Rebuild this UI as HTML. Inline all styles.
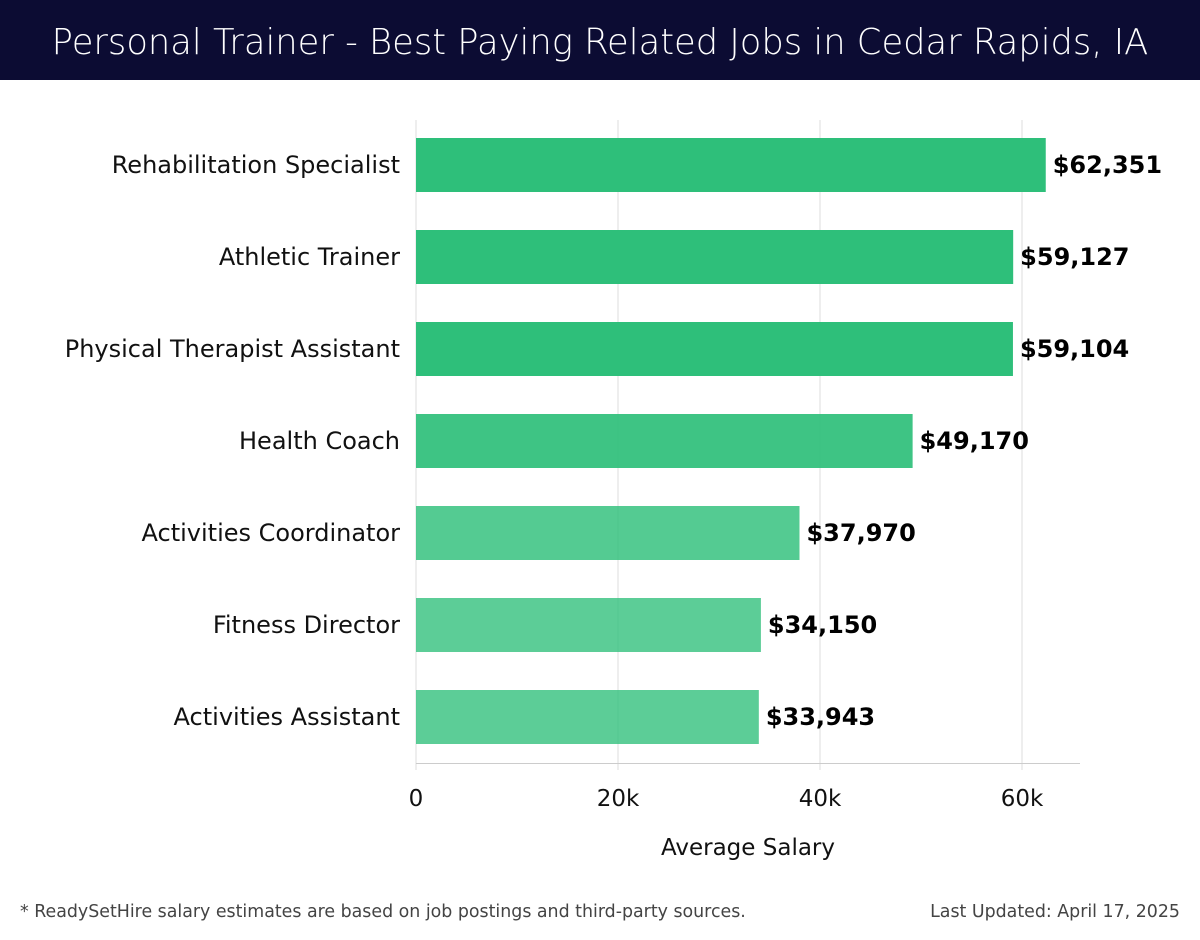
<!DOCTYPE html>
<html><head><meta charset="utf-8"><style>
body{margin:0;width:1200px;height:940px;background:#fff;font-family:"DejaVu Sans","Liberation Sans",sans-serif;overflow:hidden}
#title{position:absolute;left:0;top:0;width:1200px;height:80px;background:#0c0c33;color:#fff;font-size:35.3px;text-align:center;line-height:86px;font-family:"DejaVu Sans","Liberation Sans",sans-serif;font-weight:300}
.foot{position:absolute;top:902px;font-size:17.4px;color:#444}
</style></head><body>
<div id="title">Personal Trainer - Best Paying Related Jobs in Cedar Rapids, IA</div>
<svg id="chart" width="1200" height="940" style="position:absolute;left:0;top:0"></svg>
<div class="foot" style="left:20px">* ReadySetHire salary estimates are based on job postings and third-party sources.</div>
<div class="foot" style="right:20px">Last Updated: April 17, 2025</div>
<script>
const categories=["Rehabilitation Specialist","Athletic Trainer","Physical Therapist Assistant","Health Coach","Activities Coordinator","Fitness Director","Activities Assistant"];
const salaries=[62351,59127,59104,49170,37970,34150,33943];
const valueLabels=["$62,351","$59,127","$59,104","$49,170","$37,970","$34,150","$33,943"];
const ticks=[0,20000,40000,60000];
const tickLabels=["0","20k","40k","60k"];
const opac=[1,1,1,0.92,0.82,0.78,0.78];
const svg=document.getElementById('chart');
const NS='http://www.w3.org/2000/svg';
const x=v=>416+v*(1022-416)/60000;
const y=i=>165+i*92;
function mk(t,a){const e=document.createElementNS(NS,t);for(const k in a)e.setAttribute(k,a[k]);svg.appendChild(e);return e;}
ticks.forEach((t,i)=>{
 const g=mk('line',{x1:x(t),x2:x(t),y1:120,y2:770,stroke:'#dddddd','stroke-width':1});
 
 
 const l=mk('text',{x:x(t),y:806,'font-size':23,'text-anchor':'middle',fill:'#111'});
 l.textContent=tickLabels[i];
 
 
});
const ax=mk('line',{x1:416,x2:1080,y1:763.5,y2:763.5,stroke:'#ccc','stroke-width':1});


categories.forEach((c,i)=>{
 const b=mk('rect',{x:416,y:y(i)-27,width:x(salaries[i])-416,height:54,fill:'rgb(46,191,122)','fill-opacity':opac[i]});
 
 
 const l=mk('text',{x:400,y:y(i)+8,'font-size':24,'text-anchor':'end',fill:'#111'});
 l.textContent=c;
 
 
 const v=mk('text',{x:x(salaries[i])+7,y:y(i)+8,'font-size':24,'font-weight':'bold',fill:'#000'});
 v.textContent=valueLabels[i];
 
 
});
const at=mk('text',{x:748,y:855,'font-size':23,'text-anchor':'middle',fill:'#111'});
at.textContent='Average Salary';


</script>
</body></html>
